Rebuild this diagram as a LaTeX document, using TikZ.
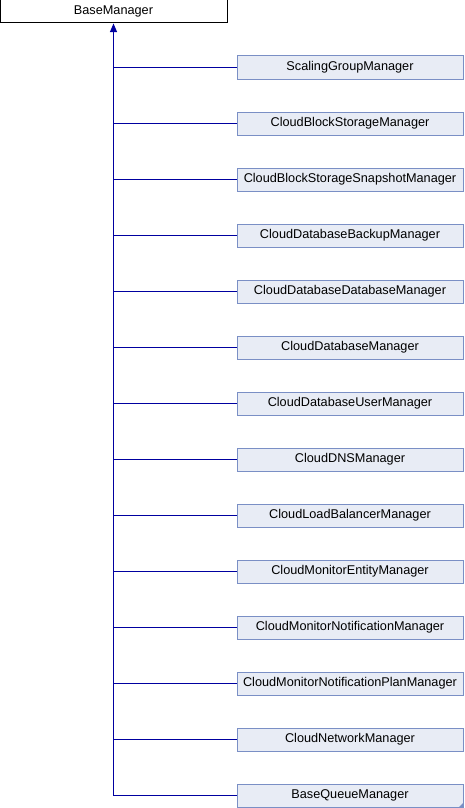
\documentclass[tikz,border=0pt]{standalone}
\usepackage{fontspec}
\setmainfont{Liberation Sans}
\usetikzlibrary{arrows}
\definecolor{edgeblue}{RGB}{0,0,160}
\definecolor{boxfill}{RGB}{232,236,245}
\definecolor{boxline}{RGB}{122,143,197}
\tikzset{
	cls/.style={draw=boxline,fill=boxfill,line width=1pt,minimum width=226pt,minimum height=23pt,inner sep=0pt,font=\fontsize{12.7}{15}\selectfont},
	basecls/.style={draw=black,fill=white,line width=1pt,minimum width=227pt,minimum height=23pt,inner sep=0pt,font=\fontsize{12.7}{15}\selectfont},
	edge/.style={edgeblue,line width=1pt}
}
\begin{document}
\begin{tikzpicture}[x=1pt,y=-1pt]
		\useasboundingbox (0,0) rectangle (464,808);
		\node[basecls] (base) at (113.5,11.5) {BaseManager};
		\foreach \name [count=\i] in {ScalingGroupManager,CloudBlockStorageManager,CloudBlockStorageSnapshotManager,CloudDatabaseBackupManager,CloudDatabaseDatabaseManager,CloudDatabaseManager,CloudDatabaseUserManager,CloudDNSManager,CloudLoadBalancerManager,CloudMonitorEntityManager,CloudMonitorNotificationManager,CloudMonitorNotificationPlanManager,CloudNetworkManager,BaseQueueManager}
			\node[cls] (c\i) at (350,{67.5+56*(\i-1)}) {\name};
		% trunk up to the base class
		\draw[edge,-triangle 45] (c14.west) -| (base.south);
		\foreach \i in {1,...,13}
			\draw[edge] (c\i.west) -- (base.south |- c\i.west);
		% marker in the corner of the last box
		\fill[boxline] (c14.south east) -- ++(-5,0) -- ++(5,-5) --cycle;
	\end{tikzpicture}
\end{document}
